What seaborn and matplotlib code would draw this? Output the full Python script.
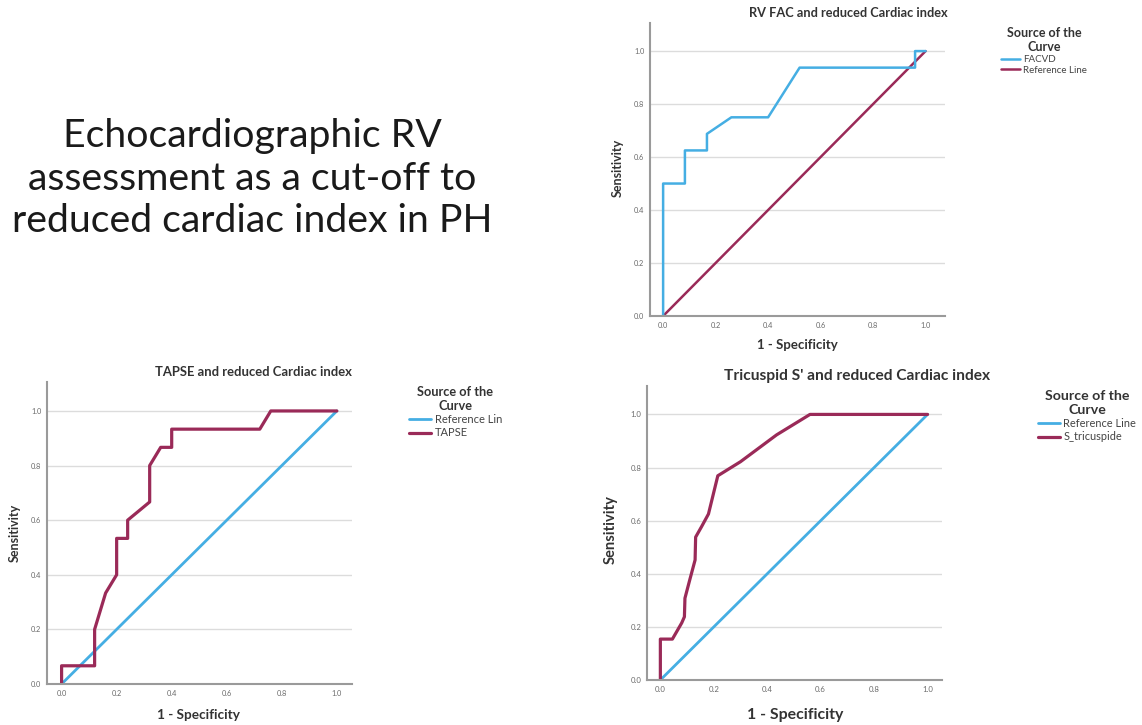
import numpy as np
import pandas as pd
import matplotlib
matplotlib.use("Agg")
import matplotlib.pyplot as plt
import seaborn as sns

# ---------------- data ----------------
fac_x = [0.0, 0.0, 0.083, 0.083, 0.167, 0.167, 0.26, 0.40, 0.52, 0.96, 0.96, 1.0]
fac_y = [0.0, 0.5, 0.5, 0.625, 0.625, 0.6875, 0.75, 0.75, 0.9375, 0.9375, 1.0, 1.0]

tapse_x = [0.0, 0.0, 0.12, 0.12, 0.14, 0.16, 0.20, 0.20, 0.24, 0.24, 0.28, 0.32, 0.32, 0.34, 0.36, 0.40, 0.40, 0.72, 0.76, 1.0]
tapse_y = [0.0, 0.0667, 0.0667, 0.2, 0.2667, 0.3333, 0.40, 0.5333, 0.5333, 0.60, 0.6333, 0.6667, 0.80, 0.8333, 0.8667, 0.8667, 0.9333, 0.9333, 1.0, 1.0]

tri_x = [0.0, 0.0, 0.045, 0.08, 0.09, 0.092, 0.11, 0.13, 0.132, 0.154, 0.18, 0.215, 0.30, 0.435, 0.56, 1.0]
tri_y = [0.0, 0.154, 0.154, 0.215, 0.238, 0.308, 0.377, 0.452, 0.538, 0.577, 0.625, 0.769, 0.822, 0.923, 1.0, 1.0]

ref_x = [0.0, 1.0]
ref_y = [0.0, 1.0]

ticks = [0.0, 0.2, 0.4, 0.6, 0.8, 1.0]
tick_labels = ["0.0", "0.2", "0.4", "0.6", "0.8", "1.0"]

BLUE = "#45aee3"
MAROON = "#9a2a58"

sns.set_theme(style="white")
plt.rcParams['font.family'] = ['Lato', 'DejaVu Sans']

W, H = 1142, 725
fig = plt.figure(figsize=(W / 100, H / 100), dpi=100)


def fx(px):
    return px / W


def fy(py):
    return 1 - py / H


def make_axes(left, right, top, bottom):
    return fig.add_axes([fx(left), fy(bottom), fx(right - left), (bottom - top) / H])


def style_axes(ax, xlim, ylim, tick_fs):
    ax.set_xlim(*xlim)
    ax.set_ylim(*ylim)
    ax.set_xticks(ticks)
    ax.set_xticklabels(tick_labels)
    ax.set_yticks(ticks)
    ax.set_yticklabels(tick_labels)
    ax.tick_params(axis="both", length=0, labelsize=tick_fs, labelcolor="#6a6a6a", pad=4)
    for s in ["top", "right"]:
        ax.spines[s].set_visible(False)
    for s in ["left", "bottom"]:
        ax.spines[s].set_color("#9a9a9a")
        ax.spines[s].set_linewidth(1.5)
    ax.grid(False)
    for t in ticks[1:]:
        ax.axhline(t, color="#dcdcdc", lw=1.0, zorder=0)


def draw_series(ax, xs, ys, color, label, lw):
    df = pd.DataFrame({"x": xs, "y": ys})
    sns.lineplot(data=df, x="x", y="y", sort=False, estimator=None, color=color,
                 lw=lw, ax=ax, label=label)


def set_labels(ax, xl_pos, yl_pos, xfs, yfs):
    ax.set_xlabel("1 - Specificity", fontsize=xfs, fontweight="bold", color="#333333")
    ax.set_ylabel("Sensitivity", fontsize=yfs, fontweight="bold", color="#333333")
    ax.xaxis.set_label_coords(*xl_pos)
    ax.xaxis.label.set_va("center")
    ax.yaxis.set_label_coords(*yl_pos)
    ax.yaxis.label.set_va("center")


def legend(ax, x, y, fs, tfs, order):
    h, l = ax.get_legend_handles_labels()
    d = dict(zip(l, h))
    leg = ax.legend([d[k] for k in order], order, title="Source of the\nCurve",
                    loc="upper left", bbox_to_anchor=(fx(x), fy(y)),
                    bbox_transform=fig.transFigure, frameon=False, fontsize=fs,
                    title_fontproperties={"weight": "bold", "size": tfs},
                    borderpad=0, borderaxespad=0, handlelength=2.0,
                    handletextpad=0.3, labelspacing=0.2)
    for t in leg.get_texts():
        t.set_color("#444444")
    leg.get_title().set_color("#333333")
    leg.get_title().set_multialignment("center")


# ---------------- chart 1: RV FAC ----------------
ax1 = make_axes(650, 945, 23, 316)
style_axes(ax1, (-0.05, 1.074), (0, 1.106), 5.3)
draw_series(ax1, ref_x, ref_y, MAROON, "Reference Line", 1.8)
draw_series(ax1, fac_x, fac_y, BLUE, "FACVD", 1.8)
set_labels(ax1, (0.498, -0.099), (-0.108, 0.505), 9.5, 9.0)
fig.text(fx(848), fy(13), "RV FAC and reduced Cardiac index", ha="center", va="center",
         fontsize=9.2, fontweight="bold", color="#333333")
legend(ax1, 1001, 27, 7.0, 9.0, ["FACVD", "Reference Line"])

# ---------------- chart 2: TAPSE ----------------
ax2 = make_axes(47, 352, 382, 684)
style_axes(ax2, (-0.053, 1.055), (0, 1.106), 5.3)
draw_series(ax2, ref_x, ref_y, BLUE, "Reference Lin", 2.0)
draw_series(ax2, tapse_x, tapse_y, MAROON, "TAPSE", 2.3)
set_labels(ax2, (0.496, -0.103), (-0.105, 0.50), 9.8, 9.0)
fig.text(fx(253), fy(372), "TAPSE and reduced Cardiac index", ha="center", va="center",
         fontsize=9.4, fontweight="bold", color="#333333")
legend(ax2, 409, 386, 8.0, 9.2, ["Reference Lin", "TAPSE"])

# ---------------- chart 3: Tricuspid S' ----------------
ax3 = make_axes(647, 942, 386, 680)
style_axes(ax3, (-0.05, 1.054), (0, 1.107), 5.6)
draw_series(ax3, ref_x, ref_y, BLUE, "Reference Line", 2.0)
draw_series(ax3, tri_x, tri_y, MAROON, "S_tricuspide", 2.3)
set_labels(ax3, (0.502, -0.119), (-0.124, 0.51), 11.4, 10.6)
fig.text(fx(857), fy(376), "Tricuspid S' and reduced Cardiac index", ha="center", va="center",
         fontsize=11.2, fontweight="bold", color="#333333")
legend(ax3, 1038, 390, 7.9, 10.2, ["Reference Line", "S_tricuspide"])

# ---------------- headline text ----------------
headline = ["Echocardiographic RV", "assessment as a cut-off to", "reduced cardiac index in PH"]
baselines = [147, 190, 232]
for line, b in zip(headline, baselines):
    fig.text(fx(252), fy(b), line, ha="center", va="baseline", fontsize=28.3, color="#1a1a1a")

fig.savefig("out.png", dpi=100)
